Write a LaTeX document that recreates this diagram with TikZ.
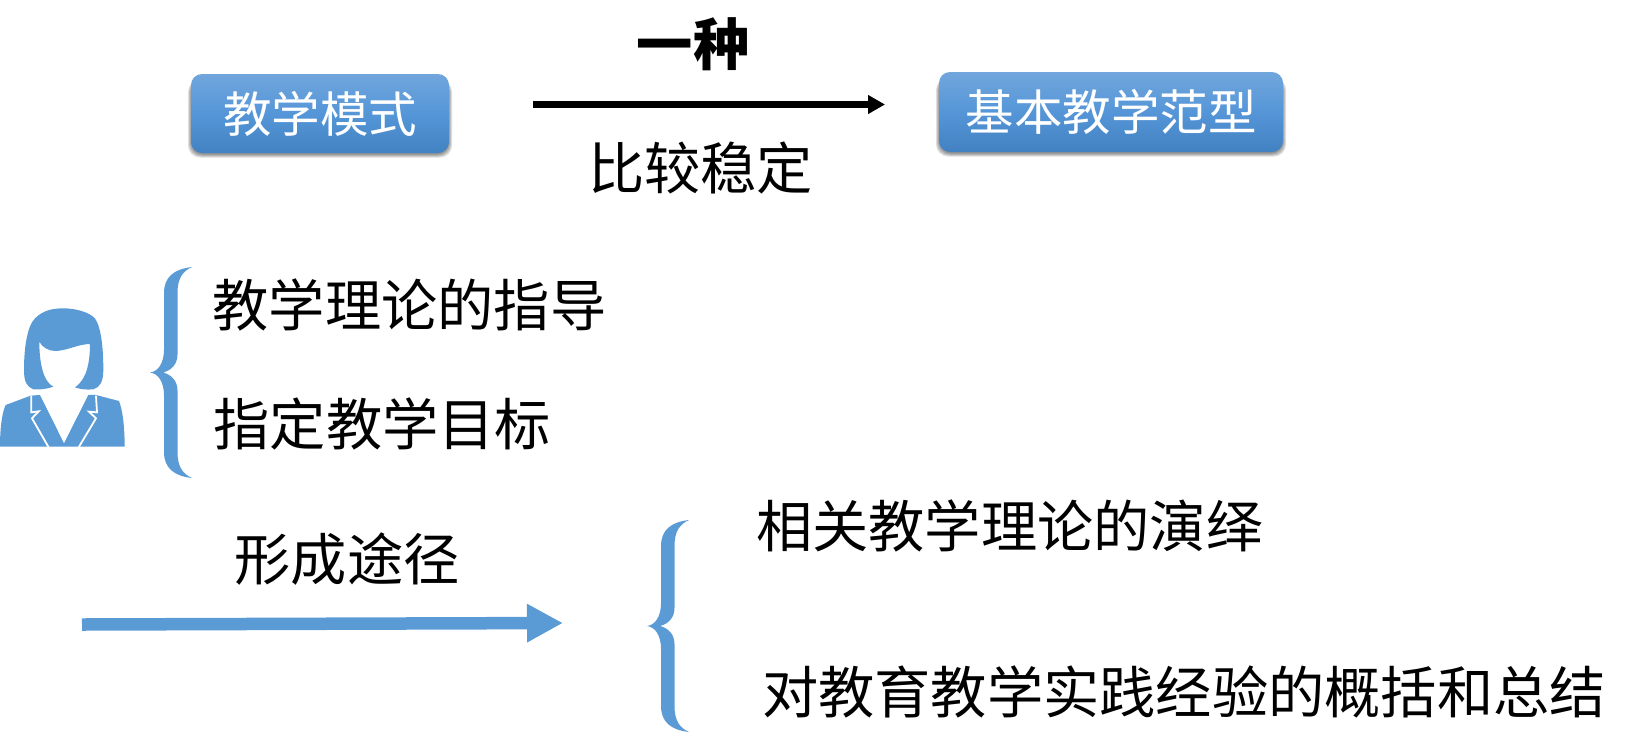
\documentclass[tikz,border=0pt]{standalone}
\usepackage{fontspec}
\setmainfont{Noto Sans CJK SC}
\usetikzlibrary{arrows.meta}
\definecolor{pblue}{HTML}{5B9BD5}
\definecolor{btntop}{HTML}{71A6DC}
\definecolor{btnmid}{HTML}{5596D8}
\definecolor{btnbot}{HTML}{4282C2}
\tikzset{
  lab/.style={inner sep=0pt,font=\fontsize{56.25}{60}\selectfont,text=black,anchor=center},
  btn/.style={inner sep=0pt,rounded corners=11pt,top color=btntop,bottom color=btnbot,middle color=btnmid,
    font=\fontsize{48.5}{52}\selectfont,text=white,anchor=center}
}
\newcommand{\pbrace}[3]{% tip x, tip y, half height
  \begin{scope}[shift={(#1,#2)}]
  \pgfmathsetmacro{\hh}{#3}
  \pgfmathsetmacro{\sl}{#3-26}
  \fill[pblue] (0,0)
    .. controls (8,-1) and (14,-9) .. (14,-23)
    -- (14,-\sl)
    .. controls (14,{-\hh+10}) and (24,{-\hh+2}) .. (42,-\hh)
    .. controls (33,{-\hh+4}) and (27.5,{-\hh+11}) .. (27.5,-\sl)
    -- (27.5,-18)
    .. controls (27.5,-8) and (21,-2) .. (13,0)
    .. controls (21,2) and (27.5,8) .. (27.5,18)
    -- (27.5,\sl)
    .. controls (27.5,{\hh-11}) and (33,{\hh-4}) .. (42,\hh)
    .. controls (24,{\hh-2}) and (14,{\hh-10}) .. (14,\sl)
    -- (14,23)
    .. controls (14,9) and (8,1) .. (0,0) -- cycle;
  \end{scope}
}
\begin{document}
\begin{tikzpicture}[x=1pt,y=-1pt]
\useasboundingbox (0,0) rectangle (1632,737);

% button shadows
\foreach \g in {0,1,2,3}{
  \fill[black,opacity=.13,rounded corners=12pt] (191-\g,80) rectangle (449+\g,154.5+\g);
  \fill[black,opacity=.13,rounded corners=12pt] (939-\g,78) rectangle (1283+\g,153.5+\g);
}
\node[btn,minimum width=258pt,minimum height=79pt] (b1) at (320,113.5) {教学模式};
\node[btn,minimum width=344pt,minimum height=80pt] (b2) at (1111,112) {基本教学范型};

% top arrow
\coordinate (a1s) at (533,104.5);
\coordinate (a1e) at (885,104.5);
\draw[line width=6.5pt,-{Triangle[length=17pt,width=18pt]}] (a1s) -- (a1e);
\node[lab,font=\fontsize{56.25}{60}\selectfont\bfseries] (t1) at (693,44) {一种};
\node[lab] (t2) at (700.5,168) {比较稳定};

% texts
\node[lab,anchor=west] (t3) at (212.5,305) {教学理论的指导};
\node[lab,anchor=west] (t4) at (213.5,424) {指定教学目标};
\node[lab,anchor=west] (t5) at (234.5,559) {形成途径};
\node[lab,anchor=west] (t6) at (756,526) {相关教学理论的演绎};
\node[lab,anchor=west] (t7) at (762,692) {对教育教学实践经验的概括和总结};

% braces
\pbrace{150}{372.5}{105.5}
\pbrace{647}{626}{106}

% blue arrow
\coordinate (a2s) at (82,624.5);
\coordinate (a2e) at (563,623);
\draw[pblue,line width=12.5pt,-{Triangle[length=36pt,width=36pt]}] (a2s) -- (a2e);

% person
\begin{scope}[shift={(0,250)},x=0.3333pt,y=-0.3333pt]
  % hair
  \fill[pblue] (100,418) .. controls (80,410) and (72,395) .. (72,360)
    .. controls (72,300) and (80,230) .. (105,205)
    .. controls (130,180) and (160,175) .. (190,175)
    .. controls (225,175) and (265,185) .. (285,205)
    .. controls (305,235) and (310,300) .. (310,360)
    .. controls (310,395) and (300,412) .. (280,418)
    .. controls (260,420) and (240,418) .. (225,412)
    .. controls (250,395) and (270,360) .. (270,282)
    .. controls (235,282) and (200,303) .. (165,303)
    .. controls (145,303) and (125,290) .. (118,275)
    .. controls (118,340) and (130,395) .. (160,410)
    .. controls (145,416) and (120,420) .. (100,418) -- cycle;
  % body
  \fill[pblue] (0,590) .. controls (0,540) and (5,490) .. (17,465)
    -- (92,437) -- (120,435) -- (192,580) -- (265,435) -- (288,435) -- (357,453)
    .. controls (368,480) and (374,530) .. (374,590) -- cycle;
  % lapel lines
  \draw[white,line width=1.8pt,line join=miter] (94,437) -- (94,487) -- (116,484) -- (96,505) -- (146,592);
  \draw[white,line width=1.8pt,line join=miter] (288,437) -- (291,487) -- (267,485) -- (288,505) -- (236,592);
\end{scope}
\end{tikzpicture}
\end{document}
